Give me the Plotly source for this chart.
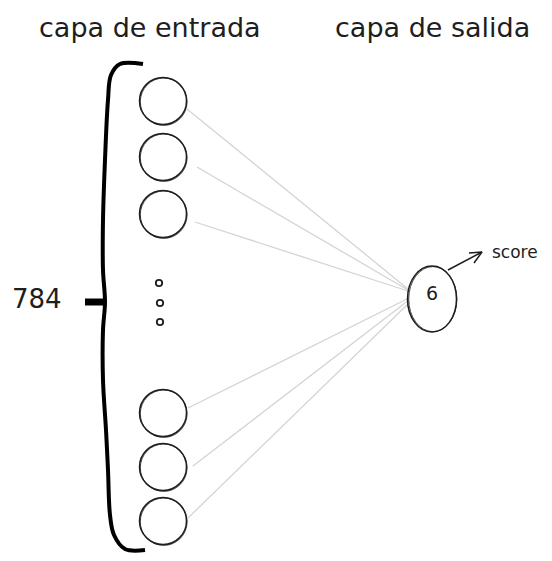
import plotly.graph_objects as go

# nodos de la capa de entrada (centro en pixeles del dibujo)
entrada_x = [163, 163, 163, 163, 163, 163]
entrada_y = [101, 157, 214, 413, 467, 521]
radio = 23.5

# puntos suspensivos
puntos_x = [159, 160, 160]
puntos_y = [283, 303, 322]

# nodo de salida
salida_x = 432
salida_y = 299
salida_rx = 24.5
salida_ry = 33
salida_texto = "6"

# conexiones (inicio en cada nodo de entrada, fin en la salida)
con_ini_x = [187, 197, 195, 188, 193, 188]
con_ini_y = [109, 167, 222, 408, 466, 518]
con_fin_x = [408, 408, 408, 409, 409, 410]
con_fin_y = [289, 290, 291, 298, 300, 302]

# llave
llave_x = [143, 120, 111, 108, 105, 103, 103, 105, 103, 103, 106, 108, 110, 114, 125, 145]
llave_y = [64, 64, 75, 100, 160, 220, 270, 302, 330, 380, 430, 470, 515, 535, 549, 550]
muesca_x = [85, 105]
muesca_y = [302, 302]

# flecha hacia "score"
flecha_x = [448, 482, None, 469, 482, 474]
flecha_y = [270, 252, None, 253, 252, 263]

titulos = ["capa de entrada", "capa de salida"]
titulos_x = [150, 432]
titulos_y = [27, 27]

fig = go.Figure()

# conexiones grises
for x0, y0, x1, y1 in zip(con_ini_x, con_ini_y, con_fin_x, con_fin_y):
    fig.add_trace(go.Scatter(x=[x0, x1], y=[y0, y1], mode="lines",
                             line=dict(color="#d4d4d4", width=1.3),
                             hoverinfo="skip", showlegend=False))

# llave
fig.add_trace(go.Scatter(x=llave_x, y=llave_y, mode="lines",
                         line=dict(color="black", width=4, shape="spline"),
                         hoverinfo="skip", showlegend=False))
fig.add_trace(go.Scatter(x=muesca_x, y=muesca_y, mode="lines",
                         line=dict(color="black", width=7),
                         hoverinfo="skip", showlegend=False))

fig.add_trace(go.Scatter(x=flecha_x, y=flecha_y, mode="lines",
                         line=dict(color="#1e1e1e", width=1.5),
                         hoverinfo="skip", showlegend=False))

shapes = []
# circulos de entrada con trazo doble tipo boceto
for cx, cy in zip(entrada_x, entrada_y):
    shapes.append(dict(type="circle", xref="x", yref="y",
                       x0=cx - radio, x1=cx + radio, y0=cy - radio, y1=cy + radio,
                       line=dict(color="#1e1e1e", width=1.5)))
    shapes.append(dict(type="circle", xref="x", yref="y",
                       x0=cx - radio + 0.8, x1=cx + radio + 0.6, y0=cy - radio + 0.5, y1=cy + radio + 0.9,
                       line=dict(color="#1e1e1e", width=0.8)))

for px_, py_ in zip(puntos_x, puntos_y):
    shapes.append(dict(type="circle", xref="x", yref="y",
                       x0=px_ - 3.2, x1=px_ + 3.2, y0=py_ - 3.2, y1=py_ + 3.2,
                       line=dict(color="#1e1e1e", width=1.8)))

# salida
shapes.append(dict(type="circle", xref="x", yref="y",
                   x0=salida_x - salida_rx, x1=salida_x + salida_rx,
                   y0=salida_y - salida_ry, y1=salida_y + salida_ry,
                   line=dict(color="#1e1e1e", width=1.5)))
shapes.append(dict(type="circle", xref="x", yref="y",
                   x0=salida_x - salida_rx + 1.2, x1=salida_x + salida_rx + 0.4,
                   y0=salida_y - salida_ry + 0.6, y1=salida_y + salida_ry - 0.4,
                   line=dict(color="#1e1e1e", width=0.8)))

fig.update_layout(shapes=shapes)

fuente = "DejaVu Sans"

for t, x, y in zip(titulos, titulos_x, titulos_y):
    fig.add_annotation(x=x, y=y, text=t, showarrow=False,
                       font=dict(family=fuente, size=27, color="#1e1e1e"))

fig.add_annotation(x=37, y=299, text="784", showarrow=False,
                   font=dict(family=fuente, size=26, color="#1e1e1e"))
fig.add_annotation(x=salida_x, y=salida_y - 6, text=salida_texto, showarrow=False,
                   font=dict(family=fuente, size=19, color="#1e1e1e"))
fig.add_annotation(x=490, y=252, text="score", showarrow=False, xanchor="left",
                   font=dict(family=fuente, size=17, color="#1e1e1e"))

# la pagina deja 8px de margen, se compensa en los rangos
fig.update_xaxes(range=[8, 560], visible=False, fixedrange=True)
fig.update_yaxes(range=[569, 8], visible=False, fixedrange=True)
fig.update_layout(width=552, height=561, margin=dict(l=0, r=0, t=0, b=0),
                  plot_bgcolor="white", paper_bgcolor="white")

fig.write_html("out.html")
